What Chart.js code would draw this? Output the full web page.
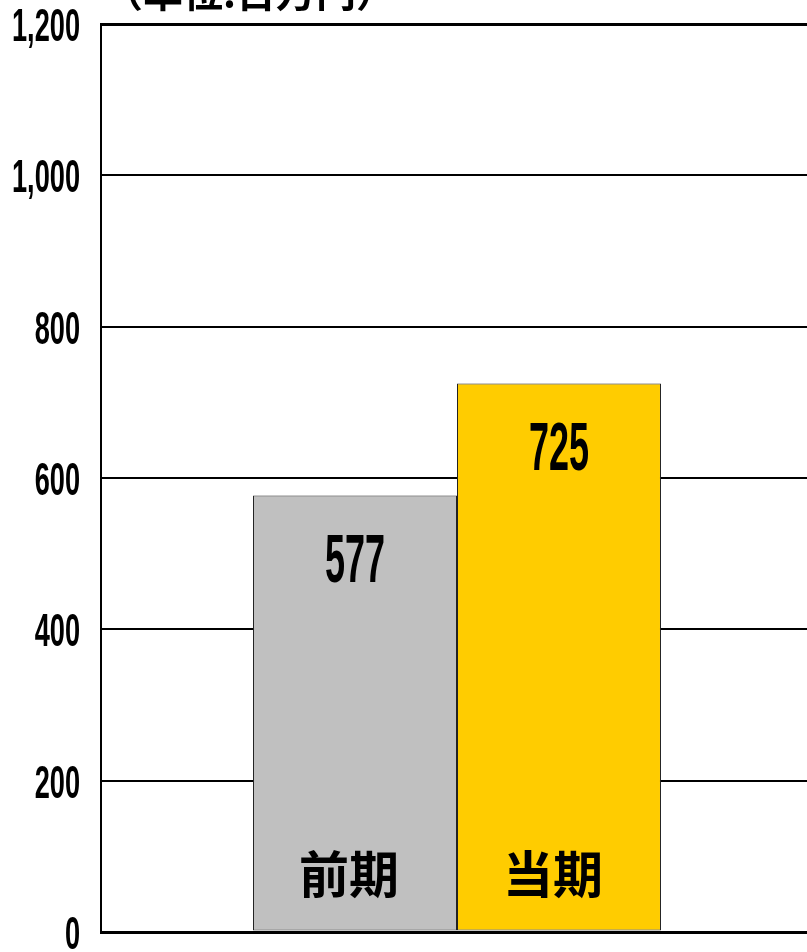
<!DOCTYPE html>
<html>
<head>
<meta charset="utf-8">
<script src="https://cdn.jsdelivr.net/npm/chart.js@4/dist/chart.umd.min.js"></script>
<style>
  html, body { margin: 0; padding: 0; background: #fff; overflow: hidden; }
  #wrap { width: 813px; height: 952px; }
</style>
</head>
<body>
<div id="wrap"><canvas id="salesChart" width="813" height="952"></canvas></div>
<script>
// chart data
const periods = ["前期", "当期"];
const amounts = [577, 725];
const barColors = ["#C0C0C0", "#FFCC00"];
const yTicks = [0, 200, 400, 600, 800, 1000, 1200];
const unitLabel = "（単位:百万円）";

const NARROW = "'Liberation Sans Narrow', 'Liberation Sans', sans-serif";
const CJK = "'Noto Sans CJK JP', 'Noto Sans', sans-serif";

// draws text squeezed horizontally so it fits a target width
function drawNarrow(ctx, text, x, y, size, sx, align) {
  ctx.save();
  ctx.font = "bold " + size + "px " + NARROW;
  ctx.textAlign = align;
  ctx.textBaseline = "alphabetic";
  ctx.translate(x, y);
  ctx.scale(sx, 1);
  ctx.fillText(text, 0, 0);
  ctx.restore();
}

function squeezeFor(ctx, sample, size, targetWidth) {
  ctx.save();
  ctx.font = "bold " + size + "px " + NARROW;
  const w = ctx.measureText(sample).width;
  ctx.restore();
  return targetWidth / w;
}

const labelPlugin = {
  id: "labels",
  afterDraw(chart) {
    const ctx = chart.ctx;
    const y = chart.scales.y;
    ctx.fillStyle = "#000";

    // y tick labels
    const tickSx = squeezeFor(ctx, "1,000", 47, 68);
    yTicks.forEach((v) => {
      drawNarrow(ctx, v.toLocaleString("en-US"), 80, y.getPixelForValue(v) + 17, 47, tickSx, "right");
    });

    // value and period labels inside bars
    const valSx = squeezeFor(ctx, "577", 68, 60);
    chart.data.datasets.forEach((ds, i) => {
      const bar = chart.getDatasetMeta(i).data[0];
      drawNarrow(ctx, String(ds.data[0]), bar.x, bar.y + 87, 68, valSx, "center");

      ctx.save();
      ctx.font = "bold 50px " + CJK;
      ctx.textAlign = "center";
      ctx.textBaseline = "middle";
      ctx.fillText(ds.label, bar.x - 6, y.getPixelForValue(0) - 58);
      ctx.restore();
    });

    // unit caption, cut off by the top edge like the original
    ctx.save();
    ctx.font = "bold 40px " + CJK;
    ctx.textAlign = "left";
    ctx.textBaseline = "alphabetic";
    ctx.fillText(unitLabel, 103, 7);
    ctx.restore();
  },
};

new Chart(document.getElementById("salesChart"), {
  type: "bar",
  data: {
    labels: [""],
    datasets: periods.map((p, i) => ({
      label: p,
      data: [amounts[i]],
      backgroundColor: barColors[i],
      borderColor: "#222",
      borderWidth: 1,
      borderSkipped: false,
      barPercentage: 1,
      categoryPercentage: 0.573,
    })),
  },
  options: {
    responsive: false,
    animation: false,
    devicePixelRatio: 1,
    layout: { padding: { left: 101, top: 24, right: 0, bottom: 20 } },
    plugins: { legend: { display: false }, tooltip: { enabled: false } },
    scales: {
      x: { display: false },
      y: {
        min: 0,
        max: 1200,
        afterFit: (s) => { s.width = 0; },
        ticks: { display: false, stepSize: 200 },
        border: { display: true, color: "#000", width: 2 },
        grid: {
          drawTicks: false,
          color: "#000",
          lineWidth: (c) => (c.tick && (c.tick.value === 0 || c.tick.value === 1200) ? 3 : 2),
        },
      },
    },
  },
  plugins: [labelPlugin],
});
</script>
</body>
</html>
